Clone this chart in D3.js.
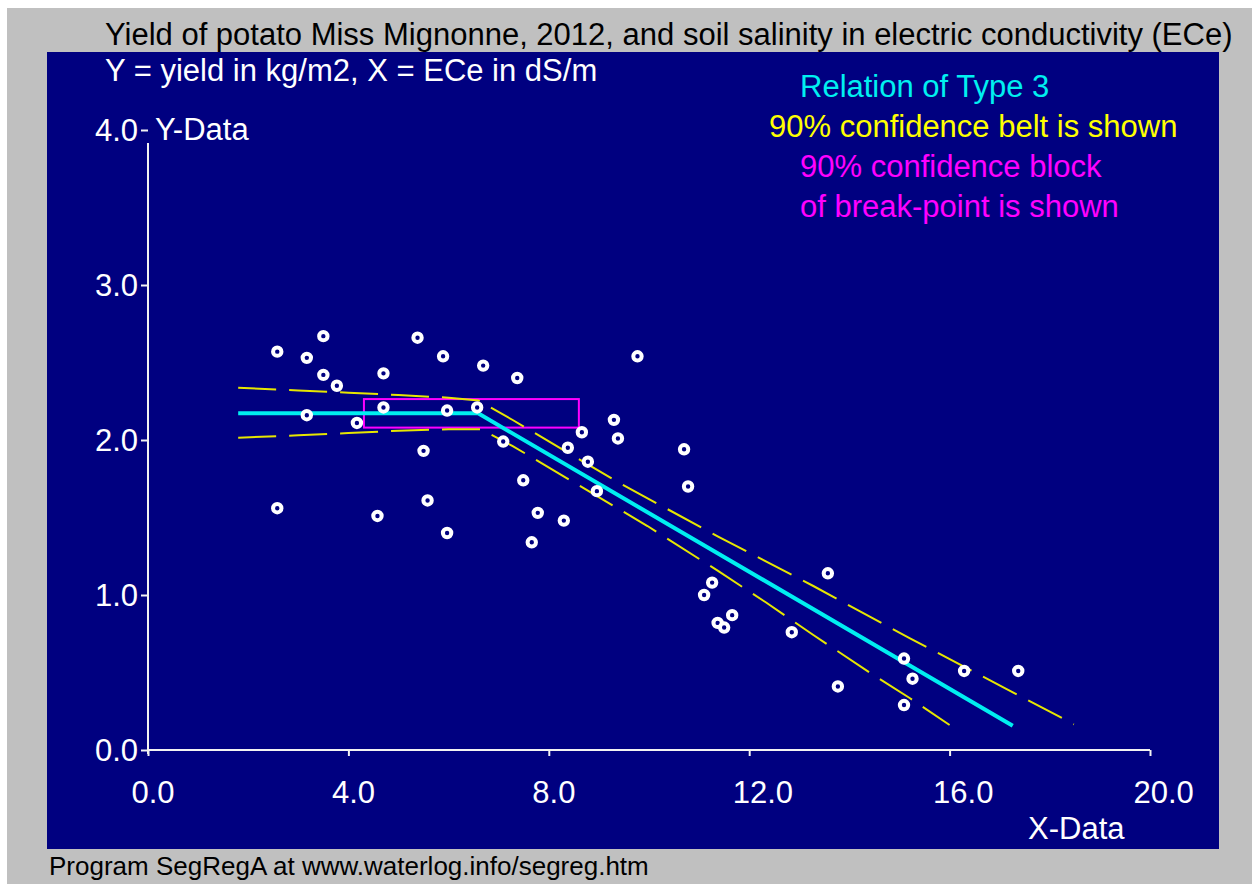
<!DOCTYPE html>
<html>
<head>
<meta charset="utf-8">
<script src="https://cdn.jsdelivr.net/npm/d3@7"></script>
<style>
  body { margin: 0; background: #fff; }
  text { font-family: "Liberation Sans", Arial, sans-serif; }
</style>
</head>
<body>
<svg id="chart" width="1252" height="884"></svg>
<script>
// observed data: ECe (dS/m) and potato yield (kg/m2)
const ece = [2.58, 2.58, 3.17, 3.17, 3.50, 3.50, 3.77, 4.17, 4.58, 4.70, 4.70, 5.38, 5.50, 5.58,
  5.89, 5.97, 5.97, 6.57, 6.69, 7.09, 7.37, 7.49, 7.66, 7.78, 8.30, 8.38, 8.66, 8.78, 8.96,
  9.30, 9.38, 9.77, 10.70, 10.78, 11.10, 11.26, 11.37, 11.50, 11.66, 12.85, 13.57, 13.77,
  15.09, 15.09, 15.26, 16.29, 17.37];
const yieldKg = [2.57, 1.56, 2.53, 2.16, 2.67, 2.42, 2.35, 2.11, 1.51, 2.43, 2.21, 2.66, 1.93, 1.61,
  2.54, 2.19, 1.40, 2.21, 2.48, 1.99, 2.40, 1.74, 1.34, 1.53, 1.48, 1.95, 2.05, 1.86, 1.67,
  2.13, 2.01, 2.54, 1.94, 1.70, 1.00, 1.08, 0.82, 0.79, 0.87, 0.76, 1.14, 0.41,
  0.59, 0.29, 0.46, 0.51, 0.51];

// segmented regression (type 3): flat then declining
const fitX = [1.80, 6.59, 17.26];
const fitY = [2.172, 2.172, 0.157];

// 90% confidence belt
const beltUpX = [1.80, 3.0, 4.0, 5.0, 6.0, 6.60, 7.28, 9.42, 11.37, 13.28, 15.21, 17.13, 18.48];
const beltUpY = [2.337, 2.32, 2.305, 2.29, 2.273, 2.255, 2.129, 1.72, 1.379, 1.058, 0.72, 0.395, 0.166];
const beltLoX = [1.80, 3.0, 4.0, 5.0, 6.0, 6.64, 7.28, 9.97, 11.37, 12.33, 13.28, 14.51, 15.21, 16.0];
const beltLoY = [2.015, 2.03, 2.045, 2.06, 2.069, 2.07, 1.961, 1.445, 1.157, 0.953, 0.742, 0.477, 0.334, 0.161];

// 90% confidence block of the break-point
const blockX = [4.31, 8.60];
const blockY = [2.08, 2.264];

const xTicks = [0, 4, 8, 12, 16, 20];
const yTicks = [0, 1, 2, 3, 4];

const titleText = "Yield of potato Miss Mignonne, 2012, and soil salinity in electric conductivity (ECe)";
const subText = "Y = yield in kg/m2, X = ECe in dS/m";
const legendLines = [
  { text: "Relation of Type 3", color: "#00f0f0", x: 800 },
  { text: "90% confidence belt is shown", color: "#ffff00", x: 769 },
  { text: "90% confidence block", color: "#ff00ff", x: 800 },
  { text: "of break-point is shown", color: "#ff00ff", x: 800 }
];

const fs = 31;
const svg = d3.select("#chart");

// backgrounds
svg.append("rect").attr("x", 7).attr("y", 8).attr("width", 1245).attr("height", 876).attr("fill", "#c0c0c0");
svg.append("rect").attr("x", 47).attr("y", 52).attr("width", 1172).attr("height", 797).attr("fill", "#000080");

const xScale = d3.scaleLinear().domain([0, 20]).range([148, 1150]);
const yScale = d3.scaleLinear().domain([0, 4]).range([750, 130]);

const fmt = d3.format(".1f");
const axisColor = "#f2f2f2";

// x axis
const gx = svg.append("g")
  .attr("transform", `translate(0, ${yScale(0)})`)
  .call(d3.axisBottom(xScale).tickValues(xTicks).tickSize(6).tickFormat(fmt));
gx.select(".domain").remove();
gx.selectAll(".tick line").attr("stroke", axisColor).attr("stroke-width", 2);
gx.selectAll(".tick text")
  .attr("fill", "#fff").attr("font-size", fs).attr("font-family", "Liberation Sans, Arial")
  .attr("text-anchor", "start").attr("x", -17).attr("y", 53).attr("dy", null);

// y axis
const gy = svg.append("g")
  .attr("transform", `translate(${xScale(0)}, 0)`)
  .call(d3.axisLeft(yScale).tickValues(yTicks).tickSize(7).tickFormat(fmt));
gy.select(".domain").remove();
gy.selectAll(".tick line").attr("stroke", axisColor).attr("stroke-width", 2);
gy.selectAll(".tick text")
  .attr("fill", "#fff").attr("font-size", fs).attr("font-family", "Liberation Sans, Arial")
  .attr("text-anchor", "end").attr("x", -10).attr("y", 10).attr("dy", null);

// axis lines
svg.append("line")
  .attr("x1", xScale(0)).attr("x2", xScale(20))
  .attr("y1", yScale(0)).attr("y2", yScale(0))
  .attr("stroke", axisColor).attr("stroke-width", 2);
svg.append("line")
  .attr("x1", xScale(0)).attr("x2", xScale(0))
  .attr("y1", yScale(0) + 4).attr("y2", yScale(4) + 13)
  .attr("stroke", axisColor).attr("stroke-width", 2);

// axis names
svg.append("text").attr("x", xScale(0) + 7).attr("y", yScale(4) + 10)
  .attr("fill", "#fff").attr("font-size", fs).text("Y-Data");
svg.append("text").attr("x", 1028).attr("y", 839)
  .attr("fill", "#fff").attr("font-size", fs).text("X-Data");

// titles
svg.append("text").attr("x", 105).attr("y", 45)
  .attr("fill", "#000").attr("font-size", fs).text(titleText);
svg.append("text").attr("x", 105).attr("y", 81)
  .attr("fill", "#fff").attr("font-size", fs).text(subText);

svg.selectAll(".legend")
  .data(legendLines)
  .enter()
  .append("text")
  .attr("class", "legend")
  .attr("x", d => d.x)
  .attr("y", (d, i) => 97 + i * 40)
  .attr("fill", d => d.color)
  .attr("font-size", fs)
  .text(d => d.text);

svg.append("text").attr("x", 49).attr("y", 875)
  .attr("fill", "#000").attr("font-size", 26)
  .text("Program SegRegA at www.waterlog.info/segreg.htm");

const line = d3.line().x(d => xScale(d[0])).y(d => yScale(d[1]));

// confidence block
svg.append("rect")
  .attr("x", xScale(blockX[0]))
  .attr("y", yScale(blockY[1]))
  .attr("width", xScale(blockX[1]) - xScale(blockX[0]))
  .attr("height", yScale(blockY[0]) - yScale(blockY[1]))
  .attr("fill", "none").attr("stroke", "#ff00ff").attr("stroke-width", 2);

// confidence belt
[[beltUpX, beltUpY], [beltLoX, beltLoY]].forEach(([bx, by]) => {
  svg.append("path")
    .datum(bx.map((v, i) => [v, by[i]]))
    .attr("d", line)
    .attr("fill", "none")
    .attr("stroke", "#e6e600")
    .attr("stroke-width", 2)
    .attr("stroke-dasharray", "38,13");
});

// fitted line
svg.append("path")
  .datum(fitX.map((v, i) => [v, fitY[i]]))
  .attr("d", line)
  .attr("fill", "none")
  .attr("stroke", "#00eef0")
  .attr("stroke-width", 4);

// data points
svg.selectAll(".pt")
  .data(ece.map((v, i) => [v, yieldKg[i]]))
  .enter()
  .append("circle")
  .attr("class", "pt")
  .attr("cx", d => xScale(d[0]))
  .attr("cy", d => yScale(d[1]))
  .attr("r", 4.2)
  .attr("fill", "#000080")
  .attr("stroke", "#fff")
  .attr("stroke-width", 4);
</script>
</body>
</html>
